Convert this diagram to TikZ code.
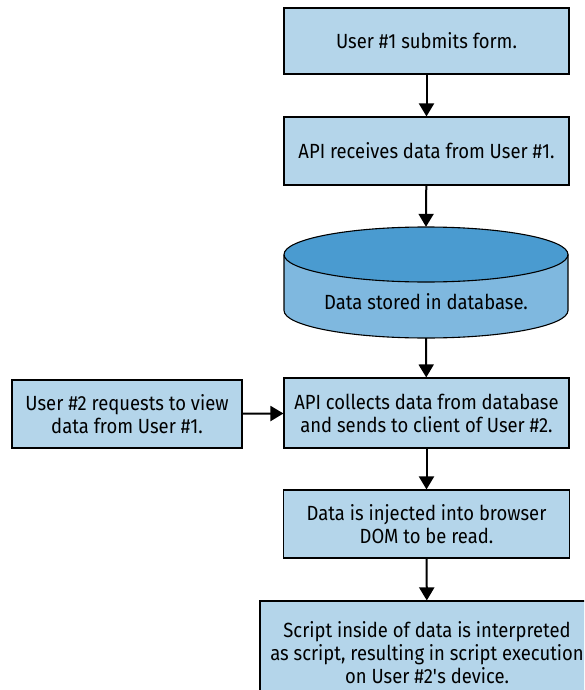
\documentclass[tikz,border=0pt]{standalone}
\usepackage{fontspec}
\setmainfont[FakeStretch=0.9]{Fira Sans}
\usetikzlibrary{arrows.meta}
\definecolor{boxfill}{HTML}{B4D5EA}
\definecolor{dbtop}{HTML}{4A9BD0}
\definecolor{dbside}{HTML}{7FB8DF}
\tikzset{
  txt/.style={font=\fontsize{20.5}{23}\selectfont},
  stepbox/.style={txt, draw=black, line width=1.1pt, fill=boxfill, align=center, inner sep=0pt},
  conn/.style={line width=2pt, -{Triangle[width=15pt,length=13pt]}}
}
\begin{document}
\begin{tikzpicture}[x=1pt,y=-1pt]
\useasboundingbox (0,0) rectangle (584,690);
\clip (0,0) rectangle (584,690);
\node[stepbox, minimum width=285pt, minimum height=66pt] (b1) at (426.5,41) {User \#1 submits form.};
\node[stepbox, minimum width=285pt, minimum height=68pt] (b2) at (426.5,151) {API receives data from User \#1.};
% cylinder
\fill[dbside] (284,254.5) -- (284,310.5) arc[start angle=180, end angle=360, x radius=142, y radius=-27.5] -- (568,254.5) -- cycle;
\fill[dbtop] (426,254.5) ellipse[x radius=142, y radius=27.5];
\draw[line width=1.1pt] (284,254.5) -- (284,310.5) arc[start angle=180, end angle=360, x radius=142, y radius=-27.5] -- (568,254.5);
\draw[line width=1.1pt] (426,254.5) ellipse[x radius=142, y radius=27.5];
\node[minimum width=284pt, minimum height=111pt, inner sep=0pt] (db) at (426,282.5) {};
\node[txt] (dbt) at (426,302) {Data stored in database.};
\node[stepbox, minimum width=285pt, minimum height=70pt] (b4) at (426.5,413) {API collects data from database\\and sends to client of User \#2.};
\node[stepbox, minimum width=230pt, minimum height=68pt] (b3) at (127,414) {User \#2 requests to view\\data from User \#1.};
\node[stepbox, minimum width=286pt, minimum height=68pt] (b5) at (426.5,524) {Data is injected into browser\\DOM to be read.};
\node[stepbox, minimum width=334pt, minimum height=104pt] (b6) at (427,653) {Script inside of data is interpreted\\as script, resulting in script execution\\on User \#2\textquotesingle s device.};
\draw[conn] (b1) -- (b2);
\draw[conn] (b2) -- (db.north);
\draw[conn] (db.south) -- (b4);
\draw[conn] (b3) -- (b4);
\draw[conn] (b4) -- (b5);
\draw[conn] (b5) -- (b6);
\end{tikzpicture}
\end{document}
